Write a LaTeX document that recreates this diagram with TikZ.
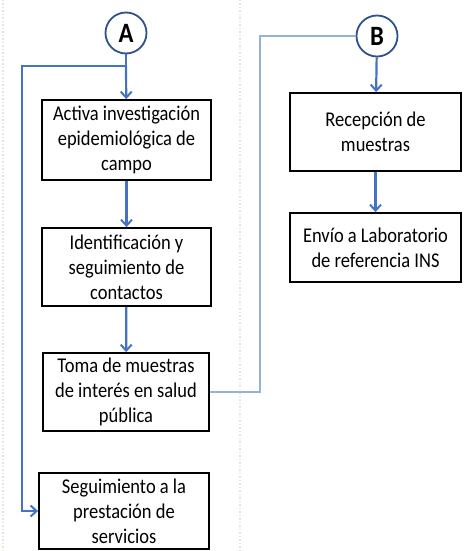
\documentclass[tikz,border=0pt]{standalone}
\usepackage{fontspec}
\setmainfont{Carlito}
\newfontfamily\boxfont{Carlito}[FakeStretch=0.88]
\usetikzlibrary{arrows.meta}

\definecolor{flowblue}{RGB}{68,114,196}
\definecolor{linkblue}{RGB}{150,178,210}
\definecolor{ringblue}{RGB}{47,82,143}
\definecolor{sepgrey}{RGB}{226,232,218}

\begin{document}
\begin{tikzpicture}[x=1pt, y=-1pt,
    flow/.style = {flowblue, line width=2.2pt, -{Straight Barb[length=6pt, width=11pt, line width=2pt]}},
    plain/.style = {flowblue, line width=2.2pt},
    link/.style = {linkblue, line width=1.3pt},
    stepbox/.style = {draw, line width=1.8pt, fill=white, inner sep=0pt, align=flush center, font=\boxfont\fontsize{21}{25}\selectfont},
    connector/.style = {circle, draw=ringblue, line width=1.8pt, fill=white, minimum size=41pt, inner sep=0pt, font=\boxfont\fontsize{28}{28}\selectfont\bfseries}]

    \useasboundingbox (0,0) rectangle (466,551);

    % separators
    \draw[sepgrey, dotted, line width=1.5pt] (240,0) -- (240,551);
    \draw[sepgrey, dotted, line width=1.5pt] (3,0) -- (3,551);

    % connectors A and B
    \node[connector] (A) at (126,33) {A};
    \node[connector] (B) at (377,36) {B};

    % boxes
    \node[stepbox, minimum width=169pt, minimum height=80pt, text width=165pt] (act) at (126.5,140) {Activa investigación\\epidemiológica de\\campo};
    \node[stepbox, minimum width=169pt, minimum height=78pt, text width=165pt] (ident) at (126.5,267) {Identificación y\\seguimiento de\\contactos};
    \node[stepbox, minimum width=166pt, minimum height=78pt, text width=162pt] (toma) at (126,392) {Toma de muestras\\de interés en salud\\pública};
    \node[stepbox, minimum width=170pt, minimum height=76pt, text width=165pt] (segui) at (124,511) {Seguimiento a la\\prestación de\\servicios};
    \node[stepbox, minimum width=171pt, minimum height=78pt, text width=165pt] (recep) at (375.5,132) {Recepción de\\muestras};
    \node[stepbox, minimum width=171pt, minimum height=69pt, text width=165pt] (envio) at (375.5,247.5) {Envío a Laboratorio\\de referencia INS};

    % flow
    \coordinate (split) at (126,66);
    \coordinate (left) at (22,66);
    \coordinate (bend) at (260,36);
    \draw[plain] (A) -- (split);
    \draw[flow] (split) -- (act);
    \draw[flow] (split) -- (left) |- (segui.west);
    \draw[flow] (act) -- (ident);
    \draw[flow] (ident) -- (toma);
    \draw[link] (toma.east) -| (bend) -- (B.west);
    \draw[flow] (B) -- (recep);
    \draw[flow] (recep) -- (envio);

\end{tikzpicture}
\end{document}
